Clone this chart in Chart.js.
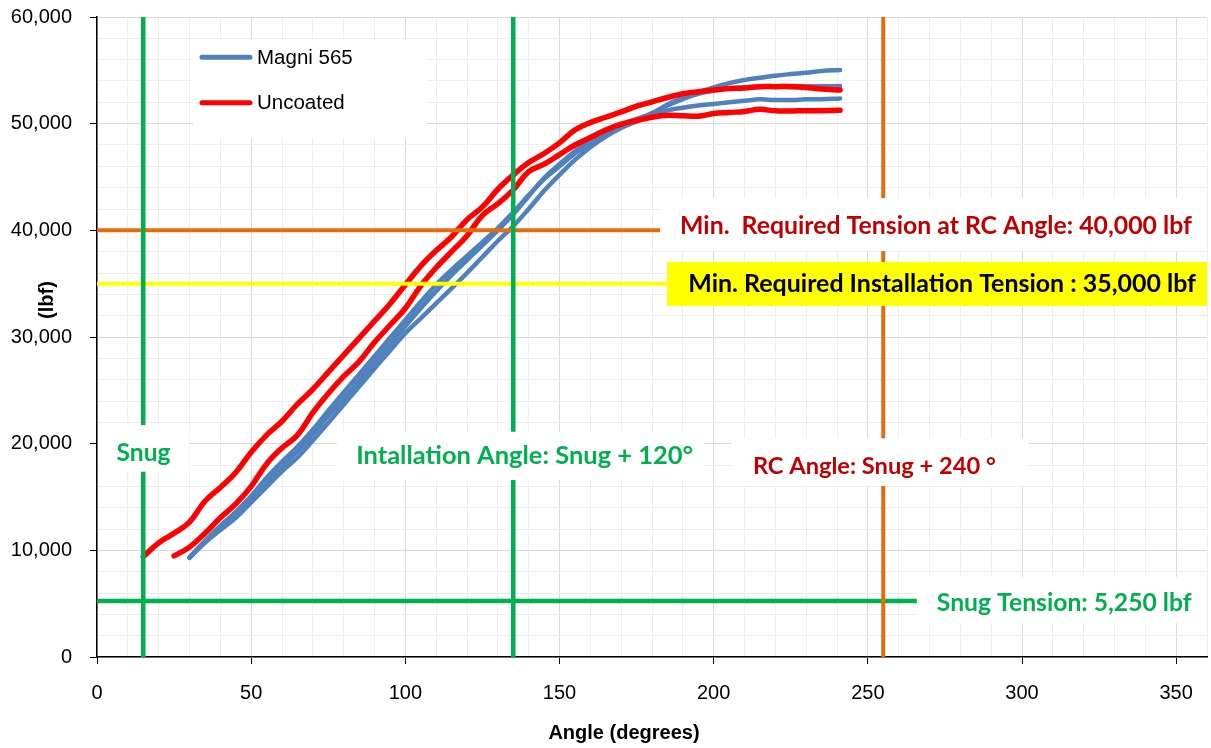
<!DOCTYPE html>
<html>
<head>
<meta charset="utf-8">
<script src="https://cdn.jsdelivr.net/npm/chart.js@4.4.1/dist/chart.umd.min.js"></script>
<style>
html,body{margin:0;padding:0;background:#fff;}
#wrap{width:1211px;height:748px;}
</style>
</head>
<body>
<div id="wrap"><canvas id="c" width="1211" height="748"></canvas></div>
<script>
// ---------------- DATA ----------------
const seriesNames = ['Magni 565', 'Uncoated'];

// Uncoated run A
const uncoatedA_angle   = [15,20,25,30,35,40,45,50,55,60,65,70,75,80,85,90,95,100,105,110,115,120,125,130,135,140,145,150,155,160,165,170,175,180,185,190,195,200,205,210,215,220,225,230,235,241];
const uncoatedA_tension = [9400,10700,11600,12650,14600,15900,17300,19200,20800,22100,23700,25100,26700,28300,29900,31500,33100,34900,36650,38100,39400,41000,42200,43850,45190,46350,47200,48200,49400,50100,50600,51100,51650,52050,52450,52800,53000,53150,53300,53350,53470,53470,53470,53400,53250,53160];

// Uncoated run B
const uncoatedB_angle   = [25,30,35,40,45,50,55,60,65,70,75,80,85,90,95,100,105,110,115,120,125,130,135,140,145,150,155,160,165,170,175,180,185,190,195,200,205,210,215,220,225,230,235,241];
const uncoatedB_tension = [9470,10300,11600,13050,14350,16000,18100,19600,20800,22900,24700,26300,27700,29500,31100,32700,34800,36500,38000,39500,41400,42500,43800,45500,46200,47100,48000,48700,49400,49950,50300,50600,50780,50750,50700,50950,51050,51150,51340,51200,51190,51220,51220,51250];

// Magni 565 runs (shared angle grid)
const magni_angle    = [30,35,40,45,50,55,60,65,70,75,80,85,90,95,100,105,110,115,120,125,130,135,140,145,150,155,160,165,170,175,180,185,190,195,200,205,210,215,220,225,230,235,241];
const magniA_tension = [9300,10700,11900,13050,14500,15950,17400,18700,20300,21950,23650,25350,27050,28700,30360,31750,33150,34550,36000,37500,39000,40400,42000,43700,45200,46600,47800,48800,49600,50200,50900,51800,52450,52950,53400,53800,54100,54300,54500,54650,54780,54940,55030];
const magniB_tension = [9350,10900,12300,13600,15100,16800,18300,19700,21300,23100,24800,26500,28200,29900,31600,33300,34900,36300,37600,38900,40200,41700,43300,44800,46000,47200,48200,49100,49800,50400,51000,51700,52300,52800,53100,53300,53400,53450,53500,53520,53500,53500,53530];
const magniC_tension = [9300,10800,12100,13400,14800,16400,17900,19300,20900,22600,24200,25900,27600,29300,31000,32700,34300,35800,37200,38600,40000,41500,43200,44900,46200,47400,48400,49200,49900,50450,50850,51250,51500,51700,51850,52000,52150,52280,52220,52220,52280,52300,52370];

// Reference lines
const refAngles   = [15, 135, 255];          // Snug, Installation angle, RC angle
const refTensions = [40000, 35000, 5250];    // min RC tension, min installation tension, snug tension

// Axis ranges / ticks
const xRange = [0, 360];
const yRange = [0, 60000];
const xMinorStep = 10, xMajorStep = 50, xLastLabel = 350;
const yMinorStep = 2000, yMajorStep = 10000;

const annotationTexts = [
  'Snug',
  'Intallation Angle: Snug + 120°',
  'RC Angle: Snug + 240 °',
  'Snug Tension: 5,250 lbf',
  'Min.  Required Tension at RC Angle: 40,000 lbf',
  'Min. Required Installation Tension : 35,000 lbf'
];
const xTitle = 'Angle (degrees)';
const yTitle = '(lbf)';

// ---------------- CHART ----------------
const GREEN = '#00B050', ORANGE = '#E46C0A', YELLOW = '#FFFF00', RED = '#FF0000', BLUE = '#4F81BD', DARKRED = '#C00000';
const pts = (xs, ys) => xs.map((x, i) => ({x: x, y: ys[i]}));

const refLine = (xs, ys, color, w) => ({
  label: '_ref', data: pts(xs, ys), borderColor: color, borderWidth: w,
  tension: 0, borderCapStyle: 'butt', pointRadius: 0, _ref: true
});
const curve = (name, xs, ys, color, w, inLegend) => ({
  label: name, data: pts(xs, ys), borderColor: color, backgroundColor: color, borderWidth: w,
  tension: 0.4, borderCapStyle: 'round', borderJoinStyle: 'round', pointRadius: 0, _legend: inLegend
});

const datasets = [
  refLine([refAngles[2], refAngles[2]], yRange, ORANGE, 4),
  refLine([refAngles[0], refAngles[0]], yRange, GREEN, 4.5),
  refLine([refAngles[1], refAngles[1]], yRange, GREEN, 4.5),
  refLine(xRange, [refTensions[0], refTensions[0]], ORANGE, 4),
  refLine(xRange, [refTensions[1], refTensions[1]], YELLOW, 4),
  refLine(xRange, [refTensions[2], refTensions[2]], GREEN, 4.5),
  curve(seriesNames[1], uncoatedA_angle, uncoatedA_tension, RED, 5.5, true),
  curve(seriesNames[1], uncoatedB_angle, uncoatedB_tension, RED, 5.5, false),
  curve(seriesNames[0], magni_angle, magniA_tension, BLUE, 4.5, true),
  curve(seriesNames[0], magni_angle, magniB_tension, BLUE, 4.5, false),
  curve(seriesNames[0], magni_angle, magniC_tension, BLUE, 4.5, false)
];

const LABEL_FONT = 'Lato, "Open Sans", sans-serif';
const AXIS_FONT = '"Liberation Sans", Arial, sans-serif';

// annotation boxes in data coordinates
const boxes = [
  {x0: 0.4,   x1: 30,  y0: 17370, y1: 21750, fill: '#fff',  cx: 15.1,  cy: 19100, color: GREEN,   w: 54,  t: 0},
  {x0: 77.7,  x1: 197, y0: 16590, y1: 21120, fill: '#fff',  cx: 138.7, cy: 18840, color: GREEN,   w: 337, t: 1},
  {x0: 205.9, x1: 302, y0: 16030, y1: 20500, fill: '#fff',  cx: 252.1, cy: 17840, color: DARKRED, w: 243, t: 2},
  {x0: 265.9, x1: 360, y0: 3160,  y1: 7530,  fill: '#fff',  cx: 313.7, cy: 5030,  color: GREEN,   w: 255, t: 3},
  {x0: 182.6, x1: 360, y0: 38060, y1: 43030, fill: '#fff',  cx: 272.1, cy: 40410, color: DARKRED, w: 512, t: 4},
  {x0: 184.9, x1: 360, y0: 32910, y1: 37030, fill: YELLOW,  cx: 274.1, cy: 34970, color: '#000',  w: 508, t: 5}
];

const annotPlugin = {
  id: 'annot',
  afterDatasetsDraw(chart) {
    const ctx = chart.ctx, xs = chart.scales.x, ys = chart.scales.y, ca = chart.chartArea;
    ctx.save();
    ctx.beginPath();
    ctx.rect(ca.left, ca.top, ca.right - ca.left, ca.bottom - ca.top);
    ctx.clip();
    boxes.forEach(b => {
      const X0 = xs.getPixelForValue(b.x0), X1 = xs.getPixelForValue(b.x1);
      const Y0 = ys.getPixelForValue(b.y1), Y1 = ys.getPixelForValue(b.y0);
      ctx.fillStyle = b.fill;
      ctx.fillRect(X0, Y0, X1 - X0, Y1 - Y0);
      const txt = annotationTexts[b.t];
      ctx.font = 'bold 22px ' + LABEL_FONT;
      const m = ctx.measureText(txt).width;
      const size = 22 * b.w / m;
      ctx.font = 'bold ' + size.toFixed(2) + 'px ' + LABEL_FONT;
      ctx.fillStyle = b.color;
      ctx.textAlign = 'center';
      ctx.textBaseline = 'middle';
      ctx.fillText(txt, xs.getPixelForValue(b.cx), ys.getPixelForValue(b.cy));
    });
    ctx.restore();

    // legend
    ctx.save();
    const lx = ca.left + 96, ly = ca.top + 23;
    ctx.fillStyle = '#fff';
    ctx.fillRect(lx, ly, 234, 98);
    const items = chart.data.datasets.filter(d => d._legend);
    items.sort((a, b) => seriesNames.indexOf(a.label) - seriesNames.indexOf(b.label));
    items.forEach((d, i) => {
      const yy = ca.top + 40.3 + i * 45.4;
      ctx.strokeStyle = d.borderColor;
      ctx.lineWidth = 5;
      ctx.lineCap = 'round';
      ctx.beginPath();
      ctx.moveTo(ca.left + 105, yy);
      ctx.lineTo(ca.left + 153, yy);
      ctx.stroke();
      ctx.fillStyle = '#000';
      ctx.font = '20.5px ' + AXIS_FONT;
      ctx.textAlign = 'left';
      ctx.textBaseline = 'middle';
      ctx.fillText(d.label, ca.left + 160, yy + 1);
    });
    ctx.restore();

    // axis titles
    ctx.save();
    ctx.fillStyle = '#000';
    ctx.font = 'bold 20px ' + AXIS_FONT;
    ctx.textAlign = 'center';
    ctx.textBaseline = 'middle';
    ctx.fillText(xTitle, 624, 733);
    ctx.translate(47, 300);
    ctx.rotate(-Math.PI / 2);
    ctx.fillText(yTitle, 0, 0);
    ctx.restore();
  }
};

new Chart(document.getElementById('c'), {
  type: 'line',
  data: {datasets: datasets},
  plugins: [annotPlugin],
  options: {
    responsive: false,
    animation: false,
    devicePixelRatio: 1,
    layout: {padding: {top: 17, right: 4, left: 0, bottom: 0}},
    plugins: {legend: {display: false}, tooltip: {enabled: false}},
    elements: {point: {radius: 0}},
    scales: {
      x: {
        type: 'linear', min: xRange[0], max: xRange[1],
        afterFit(s) { s.height = 91; s.paddingLeft = 0; s.paddingRight = 0; },
        ticks: {
          stepSize: xMinorStep, autoSkip: false, maxRotation: 0, padding: 17,
          color: '#000', font: {family: AXIS_FONT, size: 20},
          callback: v => (v % xMajorStep === 0 && v <= xLastLabel) ? String(v) : ''
        },
        grid: {
          tickLength: 7,
          color: c => (c.tick && c.tick.value % xMajorStep === 0) ? '#D9D9D9' : '#EEEEEE',
          tickColor: c => (c.tick && c.tick.value % xMajorStep === 0 && c.tick.value <= xLastLabel) ? '#000' : 'rgba(0,0,0,0)'
        },
        border: {color: '#000', width: 1.5}
      },
      y: {
        type: 'linear', min: yRange[0], max: yRange[1],
        afterFit(s) { s.width = 97; s.paddingTop = 0; s.paddingBottom = 0; },
        ticks: {
          stepSize: yMinorStep, autoSkip: false, padding: 18,
          color: '#000', font: {family: AXIS_FONT, size: 20},
          callback: v => (v % yMajorStep === 0) ? v.toLocaleString('en-US') : ''
        },
        grid: {
          tickLength: 7,
          color: c => (c.tick && c.tick.value % yMajorStep === 0) ? '#D9D9D9' : '#EEEEEE',
          tickColor: c => (c.tick && c.tick.value % yMajorStep === 0) ? '#000' : 'rgba(0,0,0,0)'
        },
        border: {color: '#000', width: 1.5}
      }
    }
  }
});
</script>
</body>
</html>
